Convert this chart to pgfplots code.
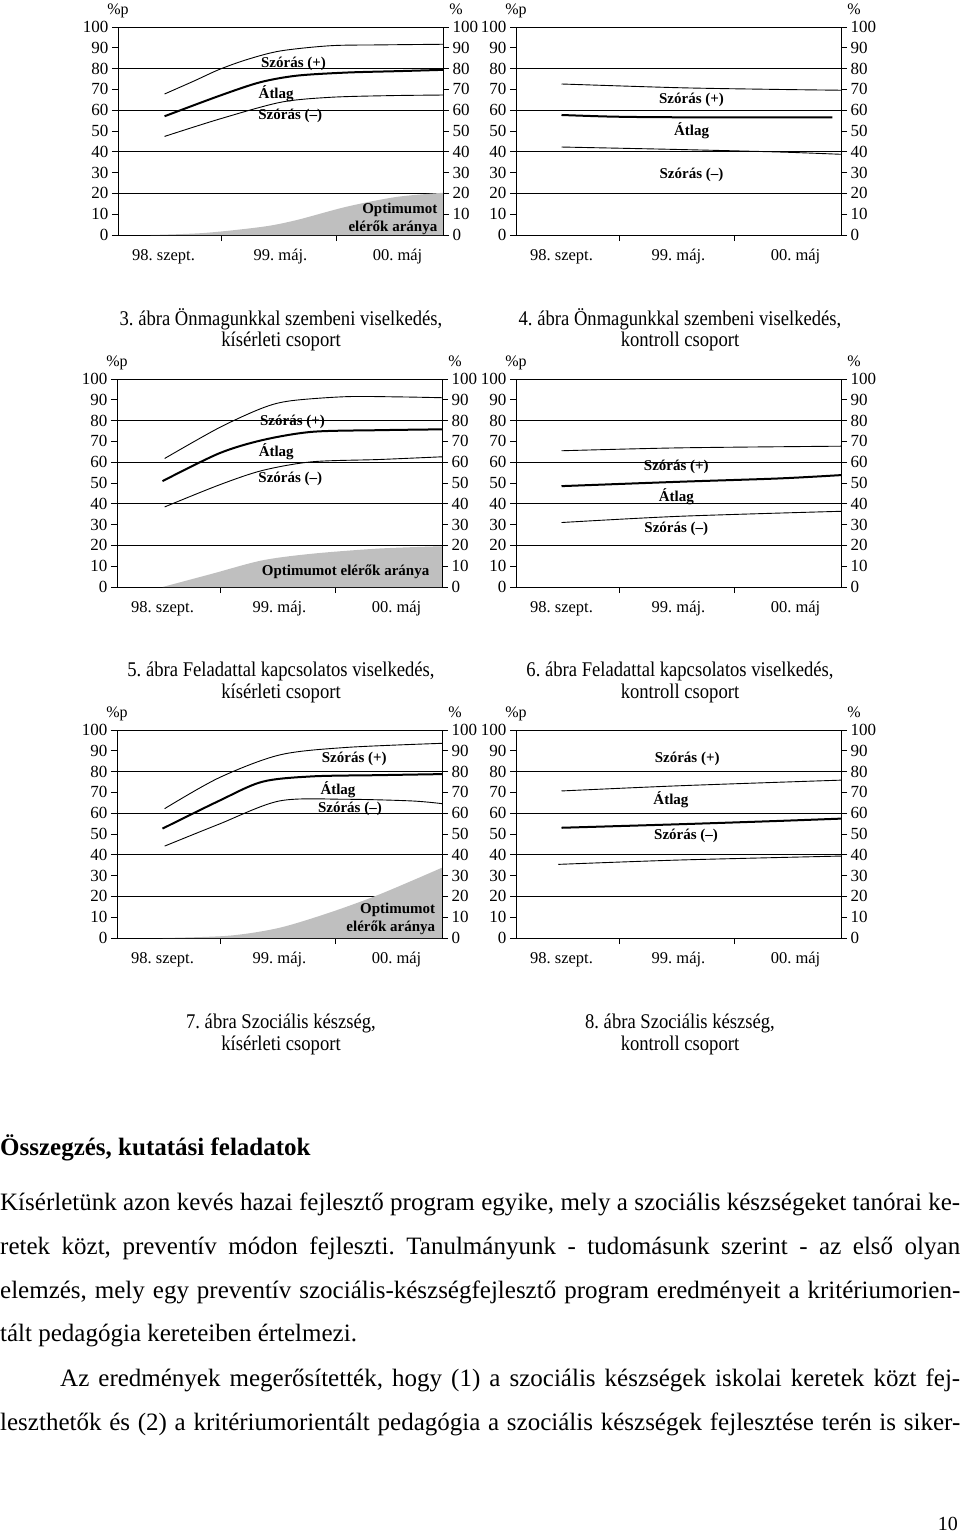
\documentclass[border=0pt]{standalone}
\usepackage{graphicx}
\usepackage{pgfplots}
\pgfplotsset{compat=1.18}
\usepackage{fontspec}
\setmainfont{Liberation Serif}
\frenchspacing

\newcommand{\lbl}{\fontsize{15}{18}\selectfont\bfseries}
\newcommand{\capf}{\fontsize{19}{22}\selectfont}
\newcommand{\bodyf}{\fontsize{25}{30}\selectfont}
\newcommand{\capt}[1]{\scalebox{0.98}[1.1]{#1}}

\pgfplotsset{
  base/.style={scale only axis, width=325pt, height=208pt,
    xmin=0, xmax=3, ymin=0, ymax=100, clip=false,
    axis line style={line width=0.8pt, -},
    every tick/.append style={line width=0.8pt, black},
    tick align=outside, major tick length=6pt,
    ytick={0,10,...,100},
    /pgf/number format/assume math mode=true,
    tick label style={font=\fontsize{17}{17}\selectfont},
  },
  leftax/.style={base, tick pos=left,
    xtick={0.95,2.02}, xticklabels={},
    extra x ticks={0.42,1.5,2.58},
    extra x tick labels={98. szept.,99. máj.,00. máj},
    extra x tick style={major tick length=0pt,
      tick label style={font=\fontsize{16.5}{16.5}\selectfont, anchor=base, text height=12pt, text depth=4pt, yshift=-25pt}},
    minor ytick={20,40,60,80}, yminorgrids, minor tick length=0pt,
    minor grid style={line width=0.7pt, black},
  },
  rightax/.style={base, axis x line=none, axis y line*=right, tick align=outside},
  sd/.style={black, line width=0.9pt, smooth, no marks},
  avg/.style={black, line width=2pt, smooth, no marks},
  opt/.style={fill=black!25, draw=none, smooth, no marks},
}

\newcommand{\rightaxis}[2]{\begin{axis}[rightax, at={(#1,#2)}, anchor=south west]\end{axis}}
\newcommand{\pcts}{%
  \node[anchor=base, font=\fontsize{16}{16}\selectfont] at ([yshift=13pt]axis cs:0,100) {\%p};
  \node[anchor=base, font=\fontsize{16}{16}\selectfont] at ([xshift=13pt,yshift=13pt]axis cs:3,100) {\%};}

\begin{document}
\begin{tikzpicture}
\path[use as bounding box] (0pt,0pt) rectangle (960pt,-1534pt);

% ---------- Chart 1 ----------
\begin{axis}[leftax, at={(118pt,-235pt)}, anchor=south west]
\addplot[opt] coordinates {(0.3,0)(0.8,1)(1.34,4)(1.65,7.2)(2.11,13.6)(2.57,18.3)(3,20.3)} \closedcycle;
\addplot[sd] coordinates {(0.43,67.8)(0.7,74)(0.94,79.7)(1.2,84.5)(1.5,88.5)(1.96,91)(2.42,91.4)(3,91.7)};
\addplot[avg] coordinates {(0.43,57.1)(0.94,67)(1.31,73.4)(1.65,76.6)(2.11,78.1)(2.6,78.8)(3,79.4)};
\addplot[sd] coordinates {(0.43,47.4)(0.94,55.8)(1.5,63.8)(1.96,66.2)(2.5,67)(3,67.3)};
\node[font=\lbl] at (axis cs:1.62,82.1) {Szórás (+)};
\node[font=\lbl] at (axis cs:1.46,67.8) {Átlag};
\node[font=\lbl] at (axis cs:1.59,57.1) {Szórás (–)};
\node[font=\lbl, anchor=east, align=right] at (axis cs:2.98,7.6) {Optimumot\\elérők aránya};
\pcts
\end{axis}
\rightaxis{118pt}{-235pt}

% ---------- Chart 2 ----------
\begin{axis}[leftax, at={(516pt,-235pt)}, anchor=south west]
\addplot[sd] coordinates {(0.42,72.6)(1.51,70.8)(2.4,70)(3,69.6)};
\addplot[avg] coordinates {(0.42,57.7)(0.9,56.9)(1.51,56.6)(2.92,56.6)};
\addplot[sd] coordinates {(0.42,42.3)(1.51,41.1)(2.43,39.9)(3,38.8)};
\node[font=\lbl] at (axis cs:1.62,64.9) {Szórás (+)};
\node[font=\lbl] at (axis cs:1.62,50.2) {Átlag};
\node[font=\lbl] at (axis cs:1.62,28.7) {Szórás (–)};
\pcts
\end{axis}
\rightaxis{516pt}{-235pt}

\node[font=\capf] at (281pt,-319pt) {\capt{3. ábra Önmagunkkal szembeni viselkedés,}};
\node[font=\capf] at (281pt,-341pt) {\capt{kísérleti csoport}};
\node[font=\capf] at (680pt,-319pt) {\capt{4. ábra Önmagunkkal szembeni viselkedés,}};
\node[font=\capf] at (680pt,-341pt) {\capt{kontroll csoport}};

% ---------- Chart 3 ----------
\begin{axis}[leftax, at={(117pt,-587pt)}, anchor=south west]
\addplot[opt] coordinates {(0.42,0)(0.88,6.4)(1.34,12.8)(1.8,16)(2.42,18.5)(3,19.6)} \closedcycle;
\addplot[sd] coordinates {(0.44,61.8)(0.94,76.5)(1.34,86)(1.6,89.5)(2.11,91.5)(2.6,91.4)(3,91)};
\addplot[avg] coordinates {(0.42,50.9)(0.94,64.2)(1.34,70.6)(1.8,74.6)(2.42,75.4)(3,75.8)};
\addplot[sd] coordinates {(0.44,38.5)(0.94,49)(1.34,56)(1.8,60.2)(2.42,61.3)(3,62.6)};
\node[font=\lbl] at (axis cs:1.62,79.5) {Szórás (+)};
\node[font=\lbl] at (axis cs:1.47,65) {Átlag};
\node[font=\lbl] at (axis cs:1.6,52.2) {Szórás (–)};
\node[font=\lbl] at (axis cs:2.11,7.2) {Optimumot elérők aránya};
\pcts
\end{axis}
\rightaxis{117pt}{-587pt}

% ---------- Chart 4 ----------
\begin{axis}[leftax, at={(516pt,-587pt)}, anchor=south west]
\addplot[sd] coordinates {(0.42,65.5)(1.51,66.9)(3,67.7)};
\addplot[avg] coordinates {(0.42,48.5)(1.51,50.6)(2.43,52.2)(3,53.8)};
\addplot[sd] coordinates {(0.42,31)(1.51,34)(3,36.4)};
\node[font=\lbl] at (axis cs:1.48,57.8) {Szórás (+)};
\node[font=\lbl] at (axis cs:1.48,43.3) {Átlag};
\node[font=\lbl] at (axis cs:1.48,28) {Szórás (–)};
\pcts
\end{axis}
\rightaxis{516pt}{-587pt}

\node[font=\capf] at (281pt,-671pt) {\capt{5. ábra Feladattal kapcsolatos viselkedés,}};
\node[font=\capf] at (281pt,-693pt) {\capt{kísérleti csoport}};
\node[font=\capf] at (680pt,-671pt) {\capt{6. ábra Feladattal kapcsolatos viselkedés,}};
\node[font=\capf] at (680pt,-693pt) {\capt{kontroll csoport}};

% ---------- Chart 5 ----------
\begin{axis}[leftax, at={(117pt,-938pt)}, anchor=south west]
\addplot[opt] coordinates {(0.42,0)(1.03,1.1)(1.49,4.8)(1.95,12)(2.42,20.9)(3,33.8)} \closedcycle;
\addplot[sd] coordinates {(0.44,62.2)(0.94,77)(1.5,88)(2.11,91.6)(3,93.6)};
\addplot[avg] coordinates {(0.42,52.6)(0.94,65.9)(1.34,75.1)(1.8,77.7)(2.42,78.3)(3,78.8)};
\addplot[sd] coordinates {(0.44,44.2)(0.94,54.7)(1.5,65.9)(2.11,66.7)(2.72,65.9)(3,64.6)};
\node[font=\lbl] at (axis cs:2.19,86) {Szórás (+)};
\node[font=\lbl] at (axis cs:2.04,71.5) {Átlag};
\node[font=\lbl] at (axis cs:2.15,62.2) {Szórás (–)};
\node[font=\lbl, anchor=east, align=right] at (axis cs:2.97,9) {Optimumot\\elérők aránya};
\pcts
\end{axis}
\rightaxis{117pt}{-938pt}

% ---------- Chart 6 ----------
\begin{axis}[leftax, at={(516pt,-938pt)}, anchor=south west]
\addplot[sd] coordinates {(0.42,70.7)(1.51,73.2)(3,75.9)};
\addplot[avg] coordinates {(0.42,53)(1.51,54.7)(2.43,56.3)(3,57.4)};
\addplot[sd] coordinates {(0.39,35.4)(1.51,37.5)(3,39.4)};
\node[font=\lbl] at (axis cs:1.58,86) {Szórás (+)};
\node[font=\lbl] at (axis cs:1.43,66.7) {Átlag};
\node[font=\lbl] at (axis cs:1.57,49) {Szórás (–)};
\pcts
\end{axis}
\rightaxis{516pt}{-938pt}

\node[font=\capf] at (281pt,-1023pt) {\capt{7. ábra Szociális készség,}};
\node[font=\capf] at (281pt,-1045pt) {\capt{kísérleti csoport}};
\node[font=\capf] at (680pt,-1023pt) {\capt{8. ábra Szociális készség,}};
\node[font=\capf] at (680pt,-1045pt) {\capt{kontroll csoport}};

% ---------- Text ----------
\node[anchor=base west, inner sep=0pt, font=\bodyf\bfseries] at (0pt,-1155pt) {Összegzés, kutatási feladatok};
\node[anchor=base west, inner sep=0pt, font=\bodyf] at (0pt,-1210pt) {\makebox[960pt][s]{Kísérletünk azon kevés hazai fejlesztő program egyike, mely a szociális készségeket tanórai ke-}};
\node[anchor=base west, inner sep=0pt, font=\bodyf] at (0pt,-1254pt) {\makebox[960pt][s]{retek közt, preventív módon fejleszti. Tanulmányunk - tudomásunk szerint - az első olyan}};
\node[anchor=base west, inner sep=0pt, font=\bodyf] at (0pt,-1298pt) {\makebox[960pt][s]{elemzés, mely egy preventív szociális-készségfejlesztő program eredményeit a kritériumorien-}};
\node[anchor=base west, inner sep=0pt, font=\bodyf] at (0pt,-1341pt) {tált pedagógia kereteiben értelmezi.};
\node[anchor=base west, inner sep=0pt, font=\bodyf] at (60pt,-1386pt) {\makebox[900pt][s]{Az eredmények megerősítették, hogy (1) a szociális készségek iskolai keretek közt fej-}};
\node[anchor=base west, inner sep=0pt, font=\bodyf] at (0pt,-1430pt) {\makebox[960pt][s]{leszthetők és (2) a kritériumorientált pedagógia a szociális készségek fejlesztése terén is siker-}};
\node[anchor=base east, inner sep=0pt, font=\fontsize{20}{24}\selectfont] at (958pt,-1530pt) {10};
\end{tikzpicture}
\end{document}
